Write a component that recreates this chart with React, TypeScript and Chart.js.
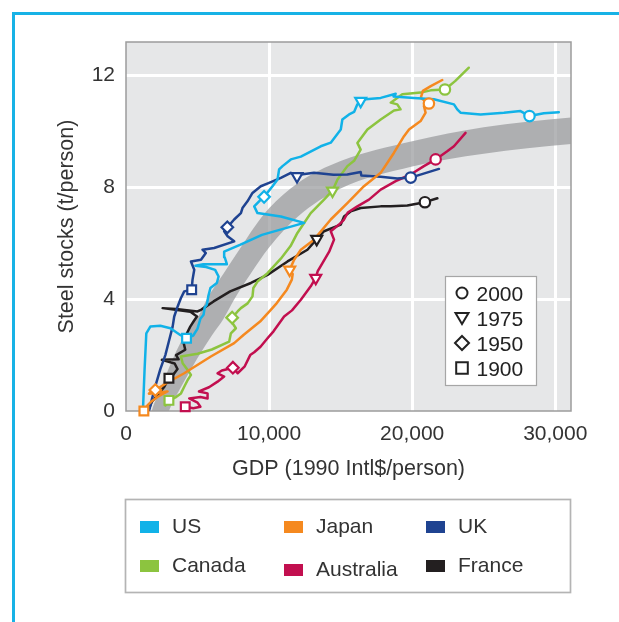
import React, { useEffect, useRef } from 'react';
import { Chart, registerables } from 'chart.js';

Chart.register(...registerables);

// ---------- data ----------
const countries = ['US', 'Japan', 'UK', 'Canada', 'Australia', 'France'];
const colors = ['#11b2e8', '#f5891f', '#1f4391', '#8cc43f', '#c20f4f', '#231f20'];

const xTickValues = [0, 10000, 20000, 30000];
const yTickValues = [0, 4, 8, 12];
const yearLabels = ['2000', '1975', '1950', '1900'];

// [GDP, steel stock]
const usPath = [
  [1190, 0.1], [1300, 1.5], [1420, 2.78], [1700, 3.02], [2400, 3.05], [3100, 2.96], [3790, 2.72], [4230, 2.6],
  [4700, 2.7], [5000, 2.95], [5200, 3.3], [5420, 3.44], [5500, 3.7], [5650, 3.8], [5750, 4.1], [5900, 4.4],
  [6350, 4.58], [6470, 4.81], [6230, 5.05], [5600, 5.15], [4850, 5.2], [5400, 5.25], [7050, 5.25], [6900, 5.5],
  [6860, 5.7], [8000, 5.95], [9500, 6.3], [12450, 6.73], [10820, 6.96], [9190, 7.08], [8960, 7.32], [9420, 7.56],
  [9650, 7.66], [10240, 8.04], [10590, 8.28], [10700, 8.64], [10940, 8.76], [11520, 9.0], [12220, 9.1],
  [13610, 9.47], [14310, 9.6], [15010, 10.07], [15120, 10.43], [15590, 10.61], [15940, 10.7], [16170, 10.97], [16400, 11.09],
  [16750, 11.15], [17800, 11.2], [18850, 11.35], [18700, 11.25], [20120, 11.2], [21520, 11.15], [22920, 10.97], [23150, 10.79],
  [23380, 10.67], [24780, 10.61], [26410, 10.67], [27570, 10.73], [28200, 10.55], [29200, 10.65], [30250, 10.69],
];
const japanPath = [
  [1250, 0.0], [1500, 0.2], [1800, 0.35], [2200, 0.5], [2600, 0.62], [2900, 0.7], [2400, 0.66], [1600, 0.62], [1800, 0.72], [2050, 0.75],
  [3000, 1.05], [4070, 1.35], [5930, 1.95], [7560, 2.43], [8210, 2.72], [9370, 3.2], [10120, 3.62], [10540, 3.86], [11240, 4.34],
  [11590, 4.7], [11650, 4.9], [11440, 5.05], [11750, 5.41], [12220, 5.77], [13140, 6.13], [14310, 6.85], [15470, 7.44], [16630, 8.04],
  [17800, 8.52], [18730, 9.24], [19430, 9.83], [19780, 10.07], [20590, 10.37], [20940, 10.67], [20820, 10.91], [21170, 11.0],
  [20600, 11.2], [20750, 11.45], [21300, 11.62], [22100, 11.84],
];
const ukPath = [
  [1630, 0.05], [2000, 0.8], [2400, 1.5], [2750, 2.0], [3020, 2.54], [3260, 3.02], [3370, 3.38], [3610, 3.74], [3840, 4.04],
  [4070, 4.28], [4590, 4.34], [4650, 4.7], [4770, 5.05], [4540, 5.35], [5240, 5.41], [5580, 5.65], [5350, 5.77], [6160, 5.83],
  [7560, 6.07], [7100, 6.25], [6860, 6.43], [7080, 6.57], [7560, 6.85], [8030, 7.08], [8140, 7.26], [8490, 7.5], [8840, 7.8],
  [9420, 8.04], [10000, 8.16], [10820, 8.34], [11520, 8.52], [11950, 8.4], [12220, 8.46], [13140, 8.52], [14500, 8.45],
  [15470, 8.46], [16400, 8.55], [16450, 8.42], [17800, 8.38], [18960, 8.32], [19900, 8.35], [21870, 8.66],
];
const canadaPath = [
  [2750, 0.2], [3000, 0.38], [3500, 0.5], [3840, 0.63], [4070, 0.87], [4310, 1.11], [4540, 1.29], [4310, 1.47], [3960, 1.71],
  [3840, 1.95], [5000, 2.05], [6000, 2.2], [7210, 2.48], [7330, 2.78], [7680, 2.96], [7450, 3.14], [7420, 3.34],
  [7800, 3.56], [8030, 3.68], [8500, 3.85], [8840, 4.1], [8900, 4.4], [9190, 4.63], [9890, 4.93], [10820, 5.45], [11500, 5.9],
  [11980, 6.37], [12910, 7.08], [13840, 7.56], [14430, 7.88], [14780, 8.28], [15470, 8.76], [15940, 8.95], [16400, 9.35],
  [16170, 9.59], [16870, 10.07], [17800, 10.43], [18730, 10.75], [19190, 10.79], [18960, 10.97], [18500, 11.03], [19310, 11.33],
  [20590, 11.39], [21290, 11.47], [22290, 11.5], [23000, 11.8], [23960, 12.28],
];
const australiaPath = [
  [4140, 0.15], [4700, 0.1], [5200, 0.15], [5000, 0.3], [4420, 0.45], [5200, 0.5], [5700, 0.45], [5700, 0.63], [5100, 0.7],
  [5800, 0.85], [6400, 1.05], [6860, 1.23], [6400, 1.35], [6700, 1.45], [7470, 1.55], [7800, 1.35], [8300, 1.6], [8680, 2.0],
  [8960, 2.1], [9400, 2.3], [9890, 2.6], [10310, 2.85], [11050, 3.38], [11600, 3.6], [12220, 3.98], [12910, 4.46], [13260, 4.76],
  [13400, 5.0], [13730, 5.29], [14200, 5.7], [14540, 6.13], [14310, 6.43], [14890, 6.67], [15240, 6.85], [15500, 7.1],
  [16170, 7.32], [16980, 7.56], [17800, 7.92], [18850, 8.22], [19890, 8.46], [20820, 8.76], [21640, 9.0], [22450, 9.29],
  [22920, 9.47], [23730, 9.95],
];
const francePath = [
  [1580, 0.05], [1810, 0.33], [2210, 0.57], [2680, 0.87], [3000, 1.17], [3300, 1.3], [3600, 1.5], [3400, 1.7], [2510, 1.83],
  [3680, 1.85], [3500, 2.0], [4140, 2.19], [4000, 2.5], [4260, 2.78], [4490, 3.02], [4720, 3.2], [4960, 3.38], [4500, 3.55],
  [2560, 3.68], [3500, 3.65], [5000, 3.56], [5240, 3.62], [5420, 3.68], [6120, 3.92], [7280, 4.28], [8730, 4.58], [9890, 4.87],
  [11290, 5.35], [12680, 5.77], [13330, 6.15], [13840, 6.43], [15010, 6.67], [15240, 6.96], [15700, 7.14], [16400, 7.26],
  [17800, 7.32], [18500, 7.32], [19660, 7.35], [20890, 7.47], [21760, 7.61],
];

// [year, GDP, steel stock]
const usMarks = [[1900, 4230, 2.6], [1950, 9650, 7.66], [1975, 16400, 11.09], [2000, 28200, 10.55]];
const japanMarks = [[1900, 1250, 0.0], [1950, 2050, 0.75], [1975, 11440, 5.05], [2000, 21170, 11.0]];
const ukMarks = [[1900, 4590, 4.34], [1950, 7080, 6.57], [1975, 11950, 8.4], [2000, 19900, 8.35]];
const canadaMarks = [[1900, 3000, 0.38], [1950, 7420, 3.34], [1975, 14430, 7.88], [2000, 22290, 11.5]];
const australiaMarks = [[1900, 4140, 0.15], [1950, 7470, 1.55], [1975, 13260, 4.76], [2000, 21640, 9.0]];
const franceMarks = [[1900, 3000, 1.17], [1975, 13330, 6.15], [2000, 20890, 7.47]];

// grey trend band: upper and lower edges
const bandUpper = [
  [1500, -0.6], [1800, 0], [2500, 0.9], [3300, 1.9], [4200, 2.8], [5070, 3.4], [5650, 4.0], [6800, 4.9], [7960, 5.8],
  [9000, 6.6], [10000, 7.25], [12000, 8.15], [15000, 8.94], [20000, 9.65], [25000, 10.15], [31100, 10.5], [33000, 10.58],
];
const bandLower = [
  [1500, -2.5], [2200, -1.2], [3000, 0], [4000, 1.0], [5000, 1.9], [6000, 2.7], [6820, 3.3], [7520, 3.95], [8700, 4.9],
  [10000, 5.85], [12000, 6.95], [15000, 7.96], [20000, 8.75], [25000, 9.2], [31100, 9.55], [33000, 9.62],
];

const paths = [usPath, japanPath, ukPath, canadaPath, australiaPath, francePath];
const marks = [usMarks, japanMarks, ukMarks, canadaMarks, australiaMarks, franceMarks];

// ---------- styling ----------
const FONT = '"Liberation Sans", Arial, Helvetica, sans-serif';
const TEXT = '#333333';
const FS = 21;

const styleFor = (yr: number) => (yr === 2000 ? 'circle' : yr === 1975 ? 'triangle' : yr === 1950 ? 'rectRot' : 'rect');
const radiusFor = (yr: number) => (yr === 2000 ? 5.2 : yr === 1975 ? 6.3 : yr === 1950 ? 5.8 : 6.2);

function drawShape(ctx: CanvasRenderingContext2D, kind: string, x: number, y: number) {
  ctx.beginPath();
  if (kind === '2000') {
    ctx.arc(x, y, 5.5, 0, Math.PI * 2);
  } else if (kind === '1975') {
    ctx.moveTo(x - 6.5, y - 5);
    ctx.lineTo(x + 6.5, y - 5);
    ctx.lineTo(x, y + 6);
    ctx.closePath();
  } else if (kind === '1950') {
    ctx.moveTo(x, y - 7);
    ctx.lineTo(x + 7, y);
    ctx.lineTo(x, y + 7);
    ctx.lineTo(x - 7, y);
    ctx.closePath();
  } else {
    ctx.rect(x - 5.8, y - 5.8, 11.6, 11.6);
  }
  ctx.fillStyle = '#ffffff';
  ctx.fill();
  ctx.lineWidth = 2;
  ctx.strokeStyle = '#222222';
  ctx.stroke();
}

const decor = {
  id: 'decor',
  beforeDraw(chart: any) {
    const { ctx, chartArea: a } = chart;
    ctx.save();
    ctx.fillStyle = '#ffffff';
    ctx.fillRect(0, 0, chart.width, chart.height);
    ctx.strokeStyle = '#17b2e6';
    ctx.lineWidth = 3;
    ctx.beginPath();
    ctx.moveTo(13.5, chart.height);
    ctx.lineTo(13.5, 13.5);
    ctx.lineTo(chart.width, 13.5);
    ctx.stroke();
    ctx.fillStyle = '#e6e7e8';
    ctx.fillRect(a.left, a.top, a.right - a.left, a.bottom - a.top);
    ctx.restore();
  },
  beforeDatasetsDraw(chart: any) {
    const { ctx, chartArea: a } = chart;
    ctx.save();
    ctx.strokeStyle = '#9c9c9c';
    ctx.lineWidth = 1.5;
    ctx.strokeRect(a.left, a.top, a.right - a.left, a.bottom - a.top);
    ctx.restore();
  },
  afterDraw(chart: any) {
    const { ctx, chartArea: a } = chart;
    ctx.save();
    // year legend inside plot
    const bx = a.right - 125.5;
    const by = a.top + 234.5;
    ctx.fillStyle = '#ffffff';
    ctx.fillRect(bx, by, 91, 109);
    ctx.strokeStyle = '#a6a6a6';
    ctx.lineWidth = 1.2;
    ctx.strokeRect(bx, by, 91, 109);
    ctx.font = `${FS}px ${FONT}`;
    ctx.textBaseline = 'alphabetic';
    yearLabels.forEach((yl, i) => {
      const cy = by + 16.5 + i * 25;
      drawShape(ctx, yl, bx + 16.5, cy);
      ctx.fillStyle = '#222222';
      ctx.fillText(yl, bx + 31, cy + 7.5);
    });
    // country legend below
    const lx = a.left - 0.5;
    const ly = 499.5;
    ctx.strokeStyle = '#b4b4b4';
    ctx.lineWidth = 1.7;
    ctx.strokeRect(lx, ly, 445, 93);
    const colX = [140, 284, 426];
    const rowY = [521, 560];
    countries.forEach((name, i) => {
      const col = i % 3;
      const row = Math.floor(i / 3);
      const shift = name === 'Australia' ? 4 : 0;
      ctx.fillStyle = colors[i];
      ctx.fillRect(colX[col], rowY[row] + shift, 19, 12);
      ctx.fillStyle = TEXT;
      ctx.fillText(name, colX[col] + 32, rowY[row] + 12 + shift);
    });
    ctx.restore();
  },
};

export default function App() {
  const ref = useRef<HTMLCanvasElement>(null);
  useEffect(() => {
    const canvas = ref.current;
    if (!canvas) return;
    const lineSets = paths.map((p, i) => ({
      type: 'line',
      label: countries[i],
      data: p.map(([x, y]) => ({ x, y })),
      borderColor: colors[i],
      backgroundColor: colors[i],
      borderWidth: 2.5,
      pointRadius: 0,
      tension: 0,
      fill: false,
      borderJoinStyle: 'round',
      borderCapStyle: 'round',
      order: 2,
    }));
    const markSets = marks.map((m, i) => ({
      type: 'line',
      label: countries[i] + ' years',
      data: m.map(([yr, x, y]) => ({ x, y, yr })),
      showLine: false,
      pointStyle: (c: any) => styleFor(c.raw ? c.raw.yr : 2000),
      pointRadius: (c: any) => radiusFor(c.raw ? c.raw.yr : 2000),
      pointRotation: (c: any) => (c.raw && c.raw.yr === 1975 ? 180 : 0),
      pointBackgroundColor: '#ffffff',
      pointBorderColor: colors[i],
      pointBorderWidth: 2.2,
      borderColor: colors[i],
      clip: false,
      order: 1,
    }));
    const bandSets = [
      {
        type: 'line',
        label: 'band upper',
        data: bandUpper.map(([x, y]) => ({ x, y })),
        borderWidth: 0,
        borderColor: 'rgba(0,0,0,0)',
        pointRadius: 0,
        cubicInterpolationMode: 'monotone',
        fill: '+1',
        backgroundColor: 'rgba(150,151,154,0.7)',
        order: 5,
      },
      {
        type: 'line',
        label: 'band lower',
        data: bandLower.map(([x, y]) => ({ x, y })),
        borderWidth: 0,
        borderColor: 'rgba(0,0,0,0)',
        pointRadius: 0,
        cubicInterpolationMode: 'monotone',
        fill: false,
        order: 5,
      },
    ];
    const tickFont = { family: FONT, size: FS };
    const chart = new Chart(canvas, {
      type: 'line',
      data: { datasets: [...lineSets, ...markSets, ...bandSets] as any },
      plugins: [decor],
      options: {
        responsive: false,
        animation: false,
        layout: { padding: { left: 0, top: 42, right: 48, bottom: 131 } },
        plugins: {
          legend: { display: false },
          tooltip: { enabled: false },
          filler: { drawTime: 'beforeDatasetsDraw' },
        },
        scales: {
          x: {
            type: 'linear',
            min: 0,
            max: 31100,
            afterFit: (s: any) => {
              s.height = 80;
              s.paddingLeft = 0;
              s.paddingRight = 0;
            },
            afterBuildTicks: (s: any) => {
              s.ticks = xTickValues.map((v) => ({ value: v }));
            },
            ticks: {
              padding: 11,
              font: tickFont,
              color: TEXT,
              maxRotation: 0,
              autoSkip: false,
              callback: (v: any) => Number(v).toLocaleString('en-US'),
            },
            grid: {
              drawTicks: false,
              lineWidth: 3,
              color: (c: any) => (c.tick && c.tick.value > 0 ? '#ffffff' : 'rgba(0,0,0,0)'),
            },
            border: { display: false },
            title: {
              display: true,
              text: 'GDP (1990 Intl$/person)',
              font: { family: FONT, size: 21.5 },
              color: TEXT,
              padding: { top: 0, bottom: 9 },
            },
          },
          y: {
            type: 'linear',
            min: 0,
            max: 13.2,
            afterFit: (s: any) => {
              s.width = 126;
              s.paddingTop = 0;
              s.paddingBottom = 0;
            },
            afterBuildTicks: (s: any) => {
              s.ticks = yTickValues.map((v) => ({ value: v }));
            },
            ticks: {
              padding: 11,
              font: tickFont,
              color: TEXT,
              callback: (v: any) => String(v),
            },
            grid: {
              drawTicks: false,
              lineWidth: 3,
              color: (c: any) => (c.tick && c.tick.value > 0 ? '#ffffff' : 'rgba(0,0,0,0)'),
            },
            border: { display: false },
            title: {
              display: true,
              text: 'Steel stocks (t/person)',
              font: { family: FONT, size: 21.5 },
              color: TEXT,
              padding: { top: 54, bottom: 0 },
            },
          },
        },
      } as any,
    });
    return () => chart.destroy();
  }, []);
  return (
    <div style={{ position: 'absolute', left: 0, top: 0, width: 619, height: 622 }}>
      <canvas ref={ref} width={619} height={622} style={{ display: 'block', width: 619, height: 622 }} />
    </div>
  );
}
